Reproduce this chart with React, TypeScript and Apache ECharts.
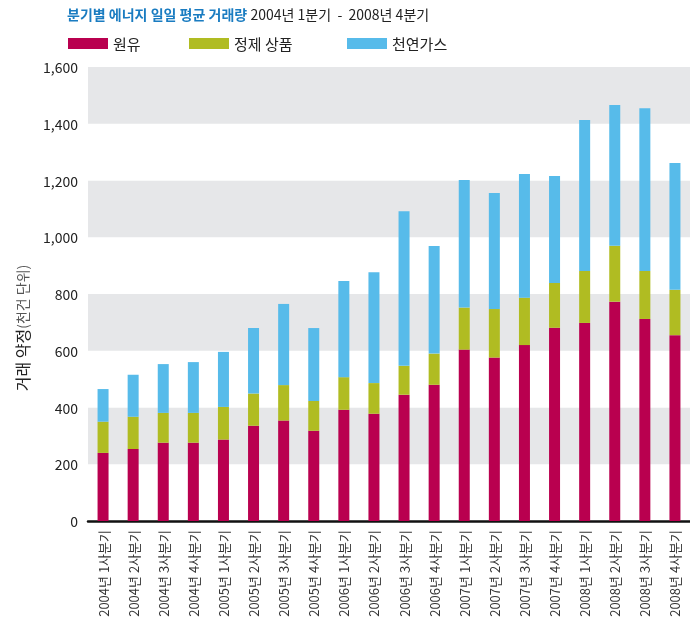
import React, { useEffect, useRef } from "react";
import * as echarts from "echarts";

const categories = [
  "2004년 1사분기", "2004년 2사분기", "2004년 3사분기", "2004년 4사분기",
  "2005년 1사분기", "2005년 2사분기", "2005년 3사분기", "2005년 4사분기",
  "2006년 1사분기", "2006년 2사분기", "2006년 3사분기", "2006년 4사분기",
  "2007년 1사분기", "2007년 2사분기", "2007년 3사분기", "2007년 4사분기",
  "2008년 1사분기", "2008년 2사분기", "2008년 3사분기", "2008년 4사분기",
];
const crudeOil = [240, 254, 276, 276, 287, 336, 354, 318, 392, 378, 445, 480, 604, 576, 620, 681, 698, 773, 712, 655];
const refinedProducts = [110, 113, 105, 105, 115, 113, 125, 105, 115, 108, 102, 110, 148, 171, 167, 158, 183, 197, 169, 160];
const naturalGas = [115, 148, 172, 179, 194, 231, 286, 257, 339, 391, 545, 379, 450, 409, 436, 377, 532, 496, 574, 447];
const seriesNames = ["원유", "정제 상품", "천연가스"];
const yTicks = [0, 200, 400, 600, 800, 1000, 1200, 1400, 1600];

const FONT = "'Noto Sans CJK KR', 'Noto Sans', sans-serif";

export default function App() {
  const ref = useRef<HTMLDivElement>(null);
  useEffect(() => {
    if (!ref.current) return;
    const chart = echarts.init(ref.current, undefined, { renderer: "svg" });
    const colors = ["#b9004f", "#b0bc22", "#57bbea"];
    const dataArr = [crudeOil, refinedProducts, naturalGas];
    chart.setOption({
      animation: false,
      textStyle: { fontFamily: FONT },
      grid: { left: 88, right: -1, top: 67, bottom: 99, containLabel: false },
      legend: [
        { left: 68, top: 36, data: [seriesNames[0]] },
        { left: 189, top: 36, data: [seriesNames[1]] },
        { left: 347, top: 36, data: [seriesNames[2]] },
      ].map((l) => ({
        ...l,
        icon: "rect",
        padding: 0,
        itemWidth: 40,
        itemHeight: 11,
        itemGap: 5,
        selectedMode: false,
        textStyle: { fontSize: 15, color: "#222", fontFamily: FONT },
      })),
      graphic: [
        {
          type: "text",
          left: 67,
          top: 7,
          style: {
            text: "{b|분기별 에너지 일일 평균 거래량} {n|2004년 1분기  -  2008년 4분기}",
            rich: {
              b: { fontSize: 14, fontWeight: "bold", fill: "#1a7cc1", fontFamily: FONT },
              n: { fontSize: 14, fill: "#222", fontFamily: FONT },
            },
          },
        },
        {
          type: "text",
          x: 22,
          y: 328,
          rotation: Math.PI / 2,
          style: {
            text: "{a|거래 약정}{c|(천건 단위)}",
            align: "center",
            verticalAlign: "middle",
            rich: {
              a: { fontSize: 16, fill: "#222", fontFamily: FONT },
              c: { fontSize: 14, fill: "#555", fontFamily: FONT },
            },
          },
        },
      ],
      xAxis: {
        type: "category",
        data: categories,
        axisLine: { lineStyle: { color: "#111", width: 2.5 } },
        axisTick: { alignWithLabel: true, length: 4, lineStyle: { color: "#111", width: 1.5 } },
        axisLabel: { rotate: 90, fontSize: 13, color: "#333", margin: 9, fontFamily: FONT, interval: 0 },
      },
      yAxis: {
        type: "value",
        min: yTicks[0],
        max: yTicks[yTicks.length - 1],
        interval: 200,
        axisLine: { show: false },
        axisTick: { show: false },
        splitLine: { show: false },
        splitArea: { show: true, areaStyle: { color: ["#ffffff", "#e6e7e9"] } },
        axisLabel: {
          fontSize: 14,
          color: "#222",
          margin: 10,
          fontFamily: FONT,
          formatter: (v: number) => v.toLocaleString("en-US"),
        },
      },
      series: seriesNames.map((name, i) => ({
        name,
        type: "bar",
        stack: "total",
        barWidth: 11,
        data: dataArr[i],
        itemStyle: { color: colors[i] },
      })),
    });
    return () => chart.dispose();
  }, []);
  return (
    <div
      ref={ref}
      style={{ position: "fixed", left: 0, top: 0, width: 690, height: 620 }}
    />
  );
}
